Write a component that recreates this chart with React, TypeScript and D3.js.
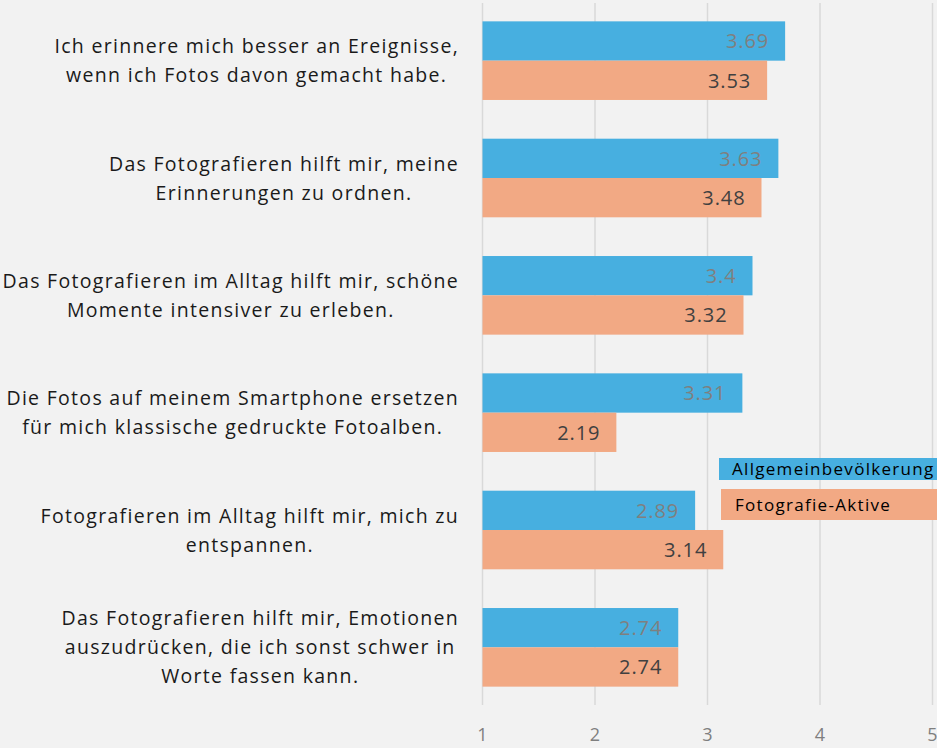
import React, { useEffect, useRef } from "react";
import * as d3 from "d3";

const categories: string[][] = [
  ["Ich erinnere mich besser an Ereignisse,", "wenn ich Fotos davon gemacht habe."],
  ["Das Fotografieren hilft mir, meine", "Erinnerungen zu ordnen."],
  ["Das Fotografieren im Alltag hilft mir, schöne", "Momente intensiver zu erleben."],
  ["Die Fotos auf meinem Smartphone ersetzen", "für mich klassische gedruckte Fotoalben."],
  ["Fotografieren im Alltag hilft mir, mich zu", "entspannen."],
  ["Das Fotografieren hilft mir, Emotionen", "auszudrücken, die ich sonst schwer in", "Worte fassen kann."],
];
const allgemein: number[] = [3.69, 3.63, 3.4, 3.31, 2.89, 2.74];
const aktive: number[] = [3.53, 3.48, 3.32, 2.19, 3.14, 2.74];
const seriesNames: string[] = ["Allgemeinbevölkerung", "Fotografie-Aktive"];
const ticks: number[] = [1, 2, 3, 4, 5];

const W = 937;
const H = 748;
const BLUE = "#47afe0";
const ORANGE = "#f2a984";
const FONT = "'Open Sans', sans-serif";

export default function App() {
  const ref = useRef<SVGSVGElement | null>(null);

  useEffect(() => {
    const svg = d3.select(ref.current);
    svg.selectAll("*").remove();

    const x = d3.scaleLinear().domain([1, 5]).range([482.5, 932.5]);
    const y = d3
      .scaleBand<number>()
      .domain(d3.range(categories.length))
      .range([2, 706])
      .paddingInner(0.33)
      .paddingOuter(0.165);
    const bw = y.bandwidth() / 2;

    svg.append("rect").attr("width", W).attr("height", H).attr("fill", "#f2f2f2");

    // gridlines
    svg
      .append("g")
      .selectAll("line")
      .data(ticks)
      .join("line")
      .attr("x1", (d) => x(d))
      .attr("x2", (d) => x(d))
      .attr("y1", 3)
      .attr("y2", 705)
      .attr("stroke", "#d9d9d9")
      .attr("stroke-width", 1.5);

    // tick labels
    svg
      .append("g")
      .selectAll("text")
      .data(ticks)
      .join("text")
      .attr("x", (d) => x(d))
      .attr("y", 741)
      .attr("text-anchor", "middle")
      .attr("font-family", FONT)
      .attr("font-size", 18)
      .attr("fill", "#7f7f7f")
      .text((d) => String(d));

    const series = [
      { vals: allgemein, color: BLUE, label: "#7f7f7f", off: 0 },
      { vals: aktive, color: ORANGE, label: "#404040", off: 1 },
    ];

    series.forEach((s) => {
      const g = svg.append("g");
      g.selectAll("rect")
        .data(s.vals)
        .join("rect")
        .attr("x", x(1))
        .attr("y", (_, i) => (y(i) as number) + s.off * bw)
        .attr("width", (d) => x(d) - x(1))
        .attr("height", bw)
        .attr("fill", s.color);
      g.selectAll("text")
        .data(s.vals)
        .join("text")
        .attr("x", (d) => x(d) - 16)
        .attr("y", (_, i) => (y(i) as number) + s.off * bw + bw / 2)
        .attr("dy", "0.36em")
        .attr("text-anchor", "end")
        .attr("font-family", FONT)
        .attr("font-size", 20)
        .attr("letter-spacing", 0.9)
        .attr("fill", s.label)
        .text((d) => String(d));
    });

    // category labels
    const lineH = 29;
    categories.forEach((lines, i) => {
      const g = svg.append("g");
      const cy = (y(i) as number) + y.bandwidth() / 2;
      const texts = lines.map((ln, j) =>
        g
          .append("text")
          .attr("y", cy + (j - (lines.length - 1) / 2) * lineH)
          .attr("dy", "0.36em")
          .attr("text-anchor", "middle")
          .attr("font-family", FONT)
          .attr("font-size", 19.5)
          .attr("letter-spacing", 1.3)
          .attr("fill", "#1a1a1a")
          .text(ln)
      );
      const widths = texts.map((t) => (t.node() as SVGTextElement).getComputedTextLength());
      const maxW = Math.max(...widths);
      const cx = 459 - maxW / 2;
      texts.forEach((t) => t.attr("x", cx));
    });

    // legend
    const leg = [
      { name: seriesNames[0], color: BLUE, x: 719, y: 458, h: 22, tx: 732 },
      { name: seriesNames[1], color: ORANGE, x: 721, y: 489, h: 31, tx: 735 },
    ];
    leg.forEach((l) => {
      svg
        .append("rect")
        .attr("x", l.x)
        .attr("y", l.y)
        .attr("width", W - l.x)
        .attr("height", l.h)
        .attr("fill", l.color);
      svg
        .append("text")
        .attr("x", l.tx)
        .attr("y", l.y + l.h / 2)
        .attr("dy", "0.36em")
        .attr("font-family", FONT)
        .attr("font-size", 17)
        .attr("letter-spacing", 1.3)
        .attr("fill", "#000")
        .text(l.name);
    });
  }, []);

  return (
    <svg
      ref={ref}
      width={W}
      height={H}
      style={{ position: "absolute", left: 0, top: 0, display: "block" }}
    />
  );
}
